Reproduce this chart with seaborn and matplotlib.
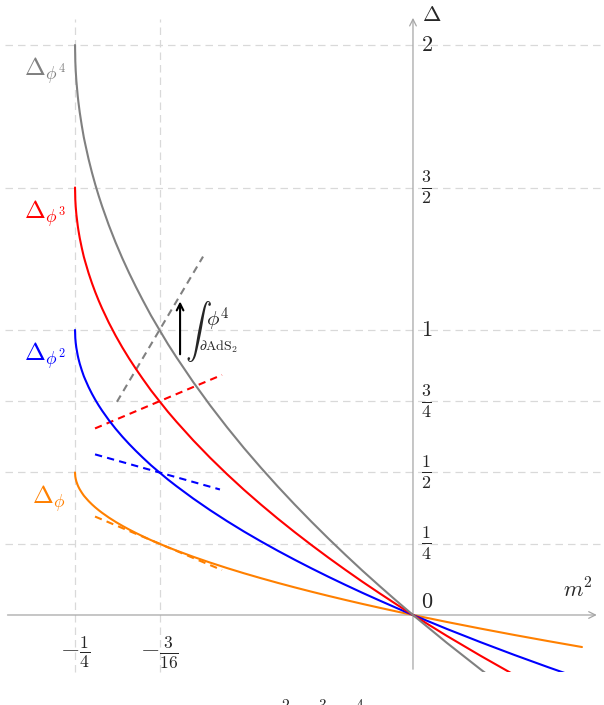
import numpy as np
import pandas as pd
import seaborn as sns
import matplotlib.pyplot as plt
from matplotlib.patches import Rectangle

# values
m2 = [-0.25, -0.2498, -0.2495, -0.249, -0.248, -0.2475, -0.2465, -0.245,
      -0.2435, -0.2425, -0.24, -0.2375, -0.235, -0.2325, -0.23, -0.225, -0.22,
      -0.215, -0.21, -0.205, -0.2, -0.1938, -0.1875, -0.1813, -0.175, -0.1625,
      -0.15, -0.1375, -0.125, -0.1125, -0.1, -0.0875, -0.075, -0.0625, -0.05,
      -0.0375, -0.025, -0.0125, 0.0, 0.025, 0.05, 0.075, 0.1, 0.125]
delta_phi = [0.5, 0.4859, 0.4776, 0.4684, 0.4553, 0.45, 0.4408, 0.4293,
             0.4190, 0.4134, 0.4, 0.3882, 0.3775, 0.3677, 0.3586, 0.3419, 0.3268,
             0.3129, 0.3, 0.2879, 0.2764, 0.2627, 0.25, 0.2377, 0.2261, 0.2042,
             0.1838, 0.1646, 0.1464, 0.1292, 0.1127, 0.0969, 0.0817, 0.0670,
             0.0528, 0.0390, 0.0257, 0.0127, 0.0, -0.0244, -0.0477, -0.0701,
             -0.0916, -0.1124]
delta_phi2 = [1.0, 0.9718, 0.9552, 0.9368, 0.9106, 0.9, 0.8816, 0.8586,
              0.8380, 0.8268, 0.8, 0.7764, 0.755, 0.7354, 0.7172, 0.6838, 0.6536,
              0.6258, 0.6, 0.5758, 0.5528, 0.5254, 0.5, 0.4754, 0.4522, 0.4084,
              0.3676, 0.3292, 0.2928, 0.2584, 0.2254, 0.1938, 0.1634, 0.1340,
              0.1056, 0.0780, 0.0514, 0.0254, 0.0, -0.0488, -0.0954, -0.1402,
              -0.1832, -0.2248]
delta_phi3 = [1.5, 1.4577, 1.4328, 1.4052, 1.3659, 1.35, 1.3224, 1.2879,
              1.2570, 1.2402, 1.2, 1.1646, 1.1325, 1.1031, 1.0758, 1.0257, 0.9804,
              0.9387, 0.9, 0.8637, 0.8292, 0.7881, 0.75, 0.7131, 0.6783, 0.6126,
              0.5514, 0.4938, 0.4392, 0.3876, 0.3381, 0.2907, 0.2451, 0.2010,
              0.1584, 0.1170, 0.0771, 0.0381, 0.0, -0.0732, -0.1431, -0.2103,
              -0.2748, -0.3372]
delta_phi4 = [2.0, 1.9436, 1.9104, 1.8736, 1.8212, 1.8, 1.7632, 1.7172,
              1.6760, 1.6536, 1.6, 1.5528, 1.51, 1.4708, 1.4344, 1.3676, 1.3072,
              1.2516, 1.2, 1.1516, 1.1056, 1.0508, 1.0, 0.9508, 0.9044, 0.8168,
              0.7352, 0.6584, 0.5856, 0.5168, 0.4508, 0.3876, 0.3268, 0.2680,
              0.2112, 0.1560, 0.1028, 0.0508, 0.0, -0.0976, -0.1908, -0.2804,
              -0.3664, -0.4496]

# dashed first-order lines (end points)
tan_x = {'phi': [-0.2352, -0.1413], 'phi2': [-0.2352, -0.1428],
         'phi3': [-0.2352, -0.1413], 'phi4': [-0.219, -0.1553]}
tan_y = {'phi': [0.3454, 0.1576], 'phi2': [0.5636, 0.4404],
         'phi3': [0.6546, 0.8424], 'phi4': [0.748, 1.2576]}

y_ticks = [2, 1.5, 1, 0.75, 0.5, 0.25]
y_tick_labels = ['$2$', r'$\frac{3}{2}$', '$1$', r'$\frac{3}{4}$', r'$\frac{1}{2}$', r'$\frac{1}{4}$']
x_ticks = [-0.25, -0.1875]
x_tick_labels = [r'$-\frac{1}{4}$', r'$-\frac{3}{16}$']

sns.set_theme(style='white')
plt.rcParams['mathtext.fontset'] = 'cm'
plt.rcParams['font.family'] = ['DejaVu Sans']

fig = plt.figure(figsize=(6.04, 7.05), dpi=100)
ax = fig.add_axes([0, 0, 1, 1])
ax.set_xlim(-0.3055, 0.1413)
ax.set_ylim(-0.3158, 2.1579)
ax.axis('off')

grid_c = '#d9d9d9'
ax.hlines(y_ticks, -0.302, 0.138, colors=grid_c, lw=0.9, linestyles=(0, (6, 4)), zorder=0)
ax.vlines(x_ticks, -0.2, 2.09, colors=grid_c, lw=0.9, linestyles=(0, (6, 4)), zorder=0)

# axes with arrows
axis_c = '#a6a6a6'
ax.annotate('', xy=(0.138, 0), xytext=(-0.302, 0),
            arrowprops=dict(arrowstyle='->', color=axis_c, lw=0.9))
ax.annotate('', xy=(0, 2.105), xytext=(0, -0.2),
            arrowprops=dict(arrowstyle='->', color=axis_c, lw=0.9))

colors = {'phi': '#ff8000', 'phi2': '#0000ff', 'phi3': '#ff0000', 'phi4': '#808080'}
series = {'phi': delta_phi, 'phi2': delta_phi2, 'phi3': delta_phi3, 'phi4': delta_phi4}

clip = Rectangle((-0.31, -0.2), 0.5, 2.5, transform=ax.transData)
for key, vals in series.items():
    sns.lineplot(x=m2, y=vals, color=colors[key], lw=1.5, sort=False,
                 estimator=None, ax=ax, zorder=3)
    ax.lines[-1].set_clip_path(clip)
    sns.lineplot(x=tan_x[key], y=tan_y[key], color=colors[key], lw=1.5,
                 sort=False, estimator=None, ax=ax, zorder=2)
    ax.lines[-1].set_dashes((3.5, 2.5))

# labels
fs = 16
for yv, lab in zip(y_ticks, y_tick_labels):
    size = fs if len(lab) < 5 else 18.5
    ax.text(0.006, yv, lab, ha='left', va='center', fontsize=size)
for xv, lab in zip(x_ticks, x_tick_labels):
    ax.text(xv, -0.13, lab, ha='center', va='center', fontsize=18)
ax.text(0.006, 0.045, '$0$', ha='left', va='center', fontsize=fs)
ax.text(0.111, 0.09, '$m^2$', ha='left', va='center', fontsize=fs)
ax.text(0.007, 2.105, r'$\Delta$', ha='left', va='center', fontsize=fs)

curve_labels = {'phi': r'$\Delta_\phi$', 'phi2': r'$\Delta_{\phi^2}$',
                'phi3': r'$\Delta_{\phi^3}$', 'phi4': r'$\Delta_{\phi^4}$'}
label_x = {'phi': -0.282, 'phi2': -0.288, 'phi3': -0.288, 'phi4': -0.288}
label_y = {'phi': 0.41, 'phi2': 0.91, 'phi3': 1.41, 'phi4': 1.91}
for key, lab in curve_labels.items():
    ax.text(label_x[key], label_y[key], lab, ha='left', va='center', fontsize=18,
            color=colors[key])

# arrow from phi^4 line
ax.annotate('', xy=(-0.1723, 1.11), xytext=(-0.1723, 0.905),
            arrowprops=dict(arrowstyle='->', color='black', lw=1.5))
ax.text(-0.1685, 0.995, r'$\int$', ha='left', va='center', fontsize=19)
ax.text(-0.1530, 1.035, r'$\phi^4$', ha='left', va='center', fontsize=15)
ax.text(-0.1580, 0.94, r'$\partial\mathrm{AdS}_2$', ha='left', va='center', fontsize=10)

# caption cut off at the bottom
for xf, s in zip([0.474, 0.535, 0.596], ['$^2$', '$^3$', '$^4$']):
    fig.text(xf, 0.0057, s, ha='center', va='top', fontsize=16)

fig.savefig('out.png', dpi=100)
